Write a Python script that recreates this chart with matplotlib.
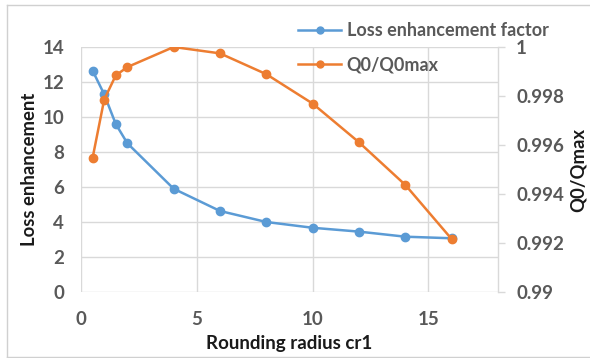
import matplotlib
matplotlib.use("Agg")
import matplotlib.pyplot as plt
from matplotlib.lines import Line2D

# Rounding radius and the two measured quantities
radius = [0.5, 1, 1.5, 2, 4, 6, 8, 10, 12, 14, 16]
loss_enhancement = [12.65, 11.3, 9.6, 8.5, 5.9, 4.63, 4.0, 3.67, 3.45, 3.16, 3.07]
q_ratio = [0.99547, 0.99785, 0.99884, 0.99918, 1.0, 0.99974, 0.99889,
           0.99769, 0.99611, 0.99437, 0.99216]

left_ticks = [0, 2, 4, 6, 8, 10, 12, 14]
right_ticks = [0.99, 0.992, 0.994, 0.996, 0.998, 1.0]
right_tick_labels = ["0.99", "0.992", "0.994", "0.996", "0.998", "1"]
x_ticks = [0, 5, 10, 15]

BLUE = "#5B9BD5"
ORANGE = "#ED7D31"
GRID = "#D9D9D9"
TICK = "#595959"
LABEL = "#1A1A1A"

plt.rcParams["font.family"] = ["Lato", "DejaVu Sans"]
plt.rcParams["font.weight"] = "bold"

W, H = 590, 358
fig = plt.figure(figsize=(W / 100, H / 100), dpi=100)
ax = fig.add_axes([81 / W, 1 - 292 / H, (498 - 81) / W, (292 - 47) / H])
ax2 = ax.twinx()

ax.set_xlim(0, 18)
ax.set_ylim(0, 14)
ax2.set_ylim(0.99, 1.0)

ax.set_xticks(x_ticks)
ax.set_yticks(left_ticks)
ax2.set_yticks(right_ticks)
ax2.set_yticklabels(right_tick_labels)

ax.grid(True, color=GRID, linewidth=1.0)
ax.set_axisbelow(True)
for a in (ax, ax2):
    for s in a.spines.values():
        s.set_visible(False)
ax2.spines["right"].set_visible(True)
ax2.spines["right"].set_color(GRID)
ax2.spines["right"].set_linewidth(1.0)

ax.tick_params(axis="y", length=0, labelsize=13.5, labelcolor=TICK, pad=12)
ax.tick_params(axis="x", length=0, labelsize=13.5, labelcolor=TICK, pad=14)
ax2.tick_params(axis="y", length=5, width=1, color=GRID, labelsize=13.5,
                labelcolor=TICK, pad=8)
for lab in ax.get_xticklabels() + ax.get_yticklabels() + ax2.get_yticklabels():
    lab.set_fontweight("bold")

ax.plot(radius, loss_enhancement, color=BLUE, linewidth=1.8, marker="o",
        markersize=6, zorder=3)
ax2.plot(radius, q_ratio, color=ORANGE, linewidth=1.8, marker="o",
         markersize=6, zorder=3)

ax.set_xlabel("Rounding radius cr1", fontsize=13.5, fontweight="bold",
              color=LABEL, labelpad=5)
ax.set_ylabel("Loss enhancement", fontsize=13.3, fontweight="bold",
              color=LABEL, labelpad=3)
ax2.set_ylabel("Q0/Qmax", fontsize=13.3, fontweight="bold", color=LABEL,
               rotation=90, labelpad=4)

handles = [
    Line2D([], [], color=BLUE, linewidth=1.8, marker="o", markersize=5),
    Line2D([], [], color=ORANGE, linewidth=1.8, marker="o", markersize=5),
]
fig.legend(handles, ["Loss enhancement factor", "Q0/Q0max"],
           loc="upper left", bbox_to_anchor=(298 / W, 1 - 22 / H),
           frameon=False, fontsize=13, labelcolor=TICK,
           handlelength=2.4, handletextpad=0.3, labelspacing=0.95,
           borderaxespad=0, borderpad=0)
for t in fig.legends[0].get_texts():
    t.set_fontweight("bold")

# Light frame around the chart area
for (xs, ys) in [([6.5 / W, 1.0], [1 - 5 / H, 1 - 5 / H]),
                 ([6.5 / W, 6.5 / W], [1 - 5 / H, 1 - 357 / H]),
                 ([6.5 / W, 1.0], [1 - 357 / H, 1 - 357 / H])]:
    fig.add_artist(Line2D(xs, ys, transform=fig.transFigure,
                          color="#D0D0D0", linewidth=1.0))

fig.savefig("out.png", dpi=100)
